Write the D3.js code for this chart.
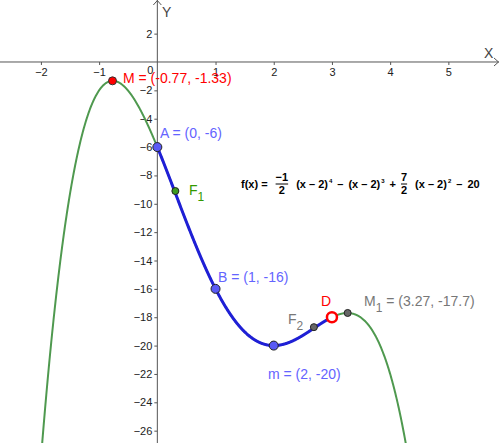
<!DOCTYPE html>
<html><head><meta charset="utf-8">
<script src="https://cdn.jsdelivr.net/npm/d3@7/dist/d3.min.js"></script>
<style>
html,body{margin:0;padding:0;background:#fff;}
svg{display:block;font-family:"Liberation Sans",Arial,sans-serif;}
</style></head>
<body>
<svg id="chart" width="499" height="443"></svg>
<script>
// ---- data ----
// f(x) = -1/2 (x-2)^4 - (x-2)^3 + 7/2 (x-2)^2 - 20  (coefficients of powers of (x-2): 4,3,2,1,0)
const shift = 2;
const coeffs = [-0.5, -1, 3.5, 0, -20];
const xDomain = [-2.703, 5.87];
const yDomain = [4.372, -26.87];
const xTicks = [-2, -1, 1, 2, 3, 4, 5];
const yTicks = [2, -2, -4, -6, -8, -10, -12, -14, -16, -18, -20, -22, -24, -26];
const segment = [0, 3];
const ptNames = ["M", "A", "F1", "B", "m", "F2", "D", "M1"];
const ptX = [-0.77, 0, 0.31, 1, 2, 2.69, 3, 3.27];
const ptY = [-1.33, -6, -9.1, -16, -20, -18.7, -18, -17.7];

const W = 499, H = 443;
const svg = d3.select("#chart");
const x = d3.scaleLinear().domain(xDomain).range([0, W]);
const y = d3.scaleLinear().domain(yDomain).range([0, H]);
const f = v => { const u = v - shift; return coeffs[0]*u**4 + coeffs[1]*u**3 + coeffs[2]*u**2 + coeffs[3]*u + coeffs[4]; };

const axisCol = "#555";
// axes
const gx = svg.append("g").attr("transform", `translate(0,${y(0)})`)
  .call(d3.axisBottom(x).tickValues(xTicks).tickSize(3).tickPadding(3));
const gy = svg.append("g").attr("transform", `translate(${x(0)},0)`)
  .call(d3.axisLeft(y).tickValues(yTicks).tickSize(3).tickPadding(2));
[gx, gy].forEach(g => {
  g.select(".domain").remove();
  g.selectAll("line").attr("stroke", axisCol);
  g.selectAll("text").attr("fill", "#222").style("font-size", "11px").style("font-family", "'Liberation Sans',Arial,sans-serif");
});
svg.append("line").attr("x1", 0).attr("x2", W).attr("y1", y(0)).attr("y2", y(0)).attr("stroke", axisCol);
svg.append("line").attr("x1", x(0)).attr("x2", x(0)).attr("y1", 0).attr("y2", H).attr("stroke", axisCol);
// arrows
svg.append("path").attr("d", `M${W-5},${y(0)-4}L${W-0.5},${y(0)}L${W-5},${y(0)+4}`).attr("fill", "none").attr("stroke", axisCol);
svg.append("path").attr("d", `M${x(0)-4},5L${x(0)},0.5L${x(0)+4},5`).attr("fill", "none").attr("stroke", axisCol);
svg.append("text").attr("x", x(0) - 4).attr("y", y(0) + 12).attr("text-anchor", "end").attr("font-size", 11).attr("fill", "#222").text("0");
svg.append("text").attr("x", 484).attr("y", 58).attr("font-size", 14).attr("fill", "#444").text("X");
svg.append("text").attr("x", 162).attr("y", 17).attr("font-size", 14).attr("fill", "#444").text("Y");

// curve
const line = d3.line().x(d => x(d)).y(d => y(f(d)));
const xs = d3.range(xDomain[0], xDomain[1], 0.005).filter(v => f(v) > yDomain[1] - 1);
svg.append("path").attr("d", line(xs)).attr("fill", "none").attr("stroke", "#4f994f").attr("stroke-width", 2);
const segXs = d3.range(segment[0], segment[1] + 0.0001, 0.005);
svg.append("path").attr("d", line(segXs)).attr("fill", "none").attr("stroke", "#1f1fd6").attr("stroke-width", 3);

// formula
const fg = svg.append("g").attr("font-weight", "bold").attr("font-size", 11).attr("fill", "#000");
const baseY = 188;
let cx = 241;
function piece(t, gap) {
  const el = fg.append("text").attr("x", cx).attr("y", baseY).text(t);
  cx += el.node().getComputedTextLength() + gap; return el;
}
function sup(t, gap) {
  const el = fg.append("text").attr("x", cx).attr("y", baseY - 5).attr("font-size", 6).text(t);
  cx += el.node().getComputedTextLength() + gap;
}
function frac(n, d, gap) {
  const a = fg.append("text").attr("x", cx).attr("y", baseY - 7).text(n);
  const w = a.node().getComputedTextLength();
  fg.append("text").attr("x", cx + w/2).attr("y", baseY + 6).attr("text-anchor", "middle").text(d);
  fg.append("line").attr("x1", cx).attr("x2", cx + w).attr("y1", baseY - 4).attr("y2", baseY - 4).attr("stroke", "#000").attr("stroke-width", 1);
  cx += w + gap;
}
piece("f(x) =", 8);
frac("\u22121", "2", 8);
piece("(x \u2013 2)", 1); sup("4", 5);
piece("\u2013", 5);
piece("(x \u2013 2)", 1); sup("3", 5);
piece("+", 5);
frac("7", "2", 8);
piece("(x \u2013 2)", 1); sup("2", 5);
piece("\u2013", 5);
piece("20", 0);

// points
const ptStyle = {
  M:  {r: 4, fill: "#ff0000", stroke: "#333", sw: 1},
  A:  {r: 4.5, fill: "#5a5af5", stroke: "#222", sw: 1},
  F1: {r: 3.5, fill: "#3c9a1e", stroke: "#222", sw: 1},
  B:  {r: 4.5, fill: "#5a5af5", stroke: "#222", sw: 1},
  m:  {r: 4.5, fill: "#5a5af5", stroke: "#222", sw: 1},
  F2: {r: 3.5, fill: "#666", stroke: "#222", sw: 1},
  D:  {r: 5, fill: "#fff", stroke: "#ff0000", sw: 2.5},
  M1: {r: 3.5, fill: "#666", stroke: "#222", sw: 1}
};
ptNames.forEach((n, i) => {
  const s = ptStyle[n];
  svg.append("circle").attr("cx", x(ptX[i])).attr("cy", y(ptY[i])).attr("r", s.r)
    .attr("fill", s.fill).attr("stroke", s.stroke).attr("stroke-width", s.sw);
});

// labels
const lab = svg.append("g").attr("font-size", 14);
lab.append("text").attr("x", 123).attr("y", 83).attr("fill", "#ff0000").text("M = (-0.77, -1.33)");
lab.append("text").attr("x", 160).attr("y", 138).attr("fill", "#6464ff").text("A = (0, -6)");
const f1 = lab.append("text").attr("x", 189).attr("y", 195).attr("fill", "#339900");
f1.append("tspan").text("F");
f1.append("tspan").attr("dy", 6).attr("font-size", 12).text("1");
lab.append("text").attr("x", 218).attr("y", 282).attr("fill", "#6464ff").text("B = (1, -16)");
lab.append("text").attr("x", 268).attr("y", 379).attr("fill", "#6464ff").text("m = (2, -20)");
const f2 = lab.append("text").attr("x", 288).attr("y", 324).attr("fill", "#777");
f2.append("tspan").text("F");
f2.append("tspan").attr("dy", 6).attr("font-size", 12).text("2");
lab.append("text").attr("x", 321).attr("y", 306).attr("fill", "#ff0000").text("D");
const m1 = lab.append("text").attr("x", 364).attr("y", 306).attr("fill", "#777");
m1.append("tspan").text("M");
m1.append("tspan").attr("dy", 6).attr("font-size", 12).text("1");
m1.append("tspan").attr("dy", -6).text(" = (3.27, -17.7)");
</script>
</body></html>
